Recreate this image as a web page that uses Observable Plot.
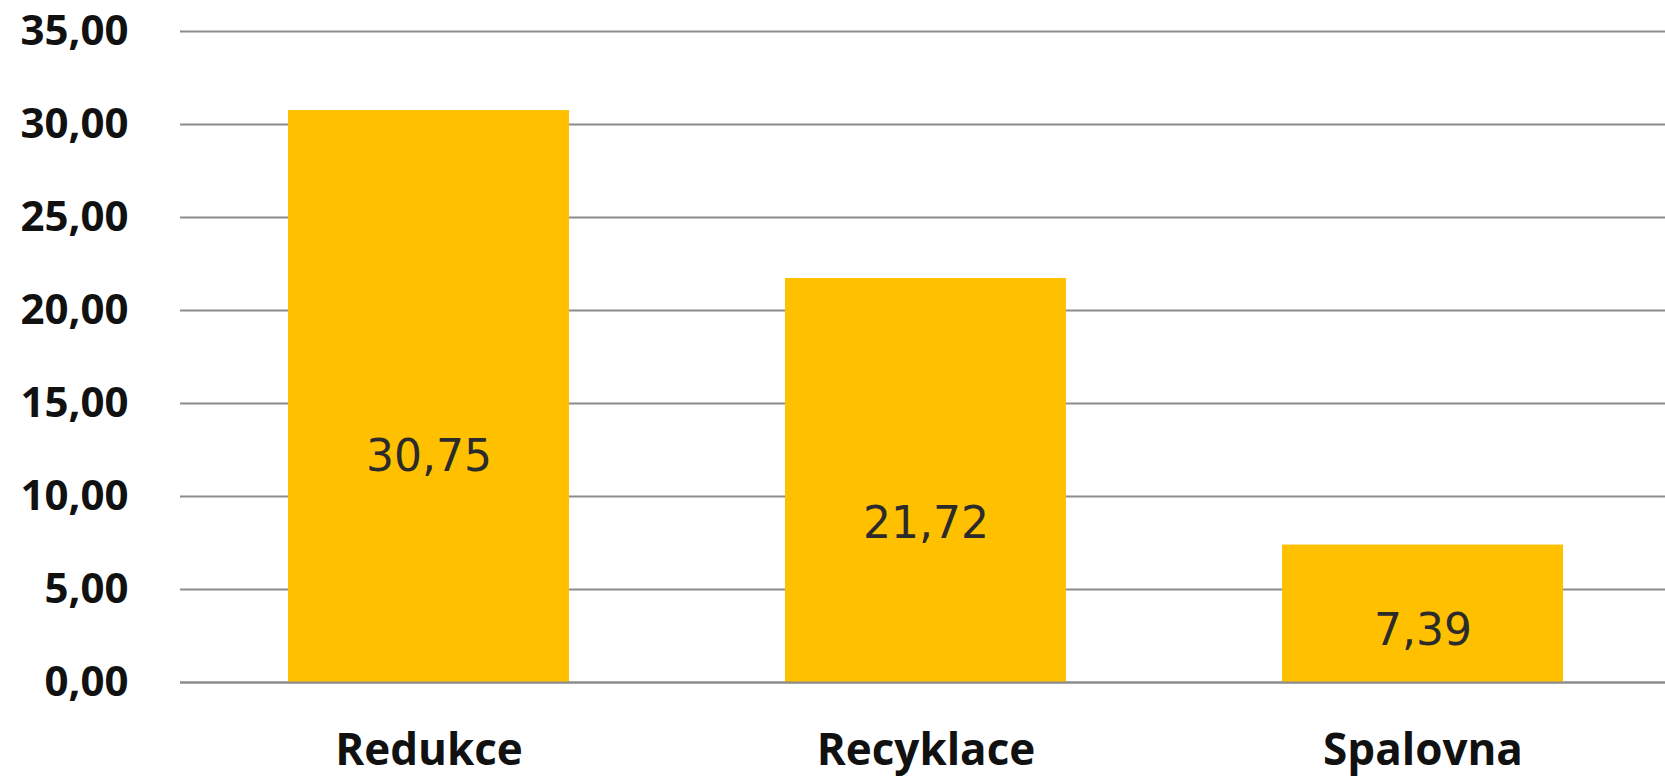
<!DOCTYPE html>
<html>
<head>
<meta charset="utf-8">
<script src="https://cdn.jsdelivr.net/npm/d3@7"></script>
<script src="https://cdn.jsdelivr.net/npm/@observablehq/plot@0.6"></script>
<style>
  html, body { margin: 0; padding: 0; background: #ffffff; }
  #chart svg { display: block; }
</style>
</head>
<body>
<div id="chart"></div>
<script>
const categories = ["Redukce", "Recyklace", "Spalovna"];
const values = [30.75, 21.72, 7.39];
const yTicks = [0, 5, 10, 15, 20, 25, 30, 35];

const data = categories.map((c, i) => ({category: c, value: values[i]}));
const fmt = v => v.toFixed(2).replace(".", ",");

const chart = Plot.plot({
  width: 1665,
  height: 776,
  marginLeft: 180,
  marginRight: 0,
  marginTop: 31,
  marginBottom: 94,
  style: {background: "#ffffff", overflow: "visible"},
  x: {domain: categories, range: [180, 1672], paddingInner: 0.434, paddingOuter: 0.215},
  y: {domain: [0, 35]},
  marks: [
    Plot.ruleY(yTicks, {stroke: "#8c8c8c", strokeWidth: 2}),
    Plot.barY(data, {x: "category", y: "value", fill: "#FFC000"}),
    Plot.ruleY([0], {stroke: "#8c8c8c", strokeWidth: 2}),
    Plot.text(data, {
      x: "category",
      y: d => d.value * 0.4,
      dy: 3,
      text: d => fmt(d.value),
      fill: "#2b2b2b",
      fontSize: 44,
      fontFamily: "DejaVu Sans",
      lineAnchor: "middle"
    }),
    Plot.axisY({
      ticks: yTicks,
      tickFormat: fmt,
      tickSize: 0,
      tickPadding: 52,
      fontSize: 42,
      fontWeight: "bold",
      fontFamily: "Open Sans",
      fill: "#111",
      label: null
    }),
    Plot.axisX({
      tickSize: 0,
      tickPadding: 51,
      fontSize: 44,
      fontWeight: "bold",
      fontFamily: "Open Sans",
      fill: "#111",
      label: null
    })
  ]
});
document.getElementById("chart").appendChild(chart);
</script>
</body>
</html>
